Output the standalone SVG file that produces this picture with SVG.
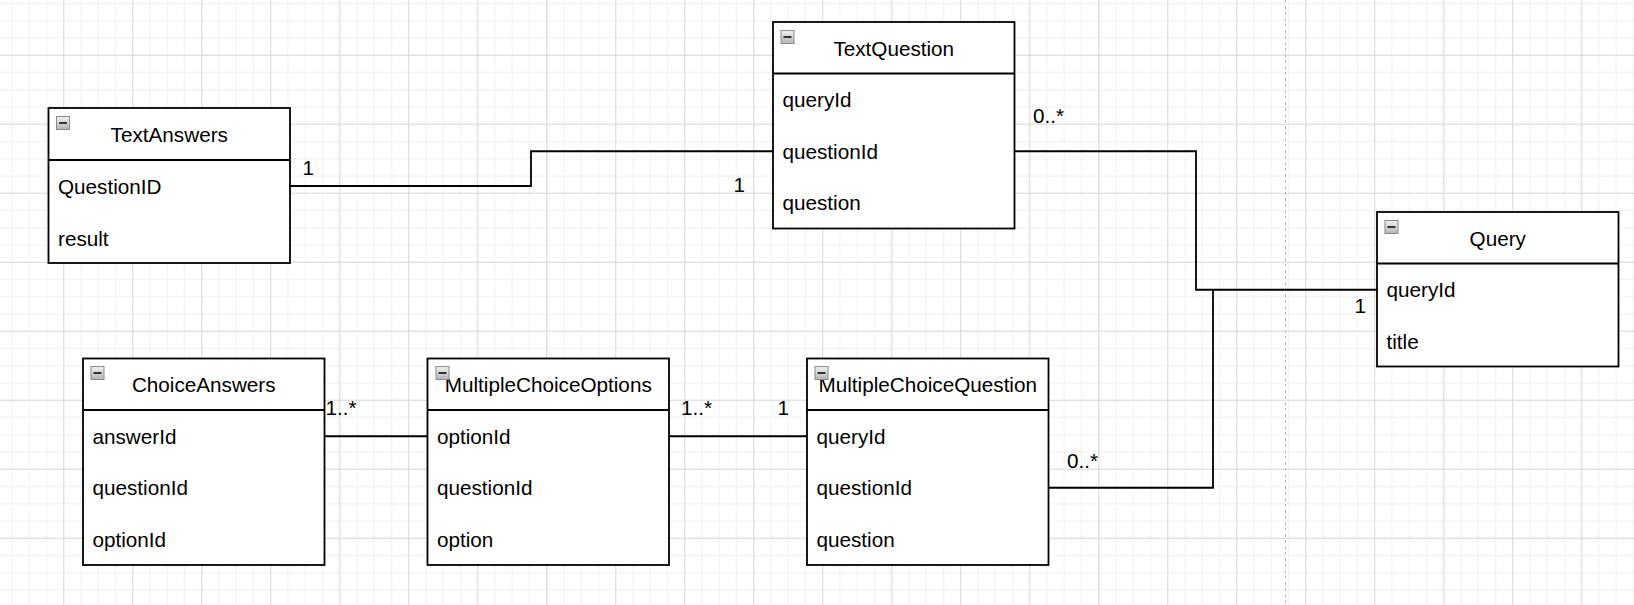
<svg xmlns="http://www.w3.org/2000/svg" width="1634" height="605" viewBox="0 0 1634 605">
<style>
.box{fill:#ffffff;stroke:#000000;stroke-width:1.8}
.div{stroke:#000000;stroke-width:1.8}
.t{font-family:"Liberation Sans",Arial,sans-serif;font-size:20.7px;fill:#000000}
.title{text-anchor:middle}
.edge{fill:none;stroke:#000000;stroke-width:1.8}
.ico{fill:url(#icoGrad);stroke:#8a8a8a;stroke-width:1}
.icobar{fill:#333333}
</style>
<defs>
<pattern id="grid" patternUnits="userSpaceOnUse" x="63.3" y="54.7" width="69" height="69">
<rect x="17.25" y="0" width="1" height="69" fill="#efefef"/>
<rect x="34.5" y="0" width="1" height="69" fill="#efefef"/>
<rect x="51.75" y="0" width="1" height="69" fill="#efefef"/>
<rect x="0" y="17.25" width="69" height="1" fill="#efefef"/>
<rect x="0" y="34.5" width="69" height="1" fill="#efefef"/>
<rect x="0" y="51.75" width="69" height="1" fill="#efefef"/>
<rect x="0" y="0" width="1" height="69" fill="#d6d6d6"/>
<rect x="0" y="0" width="69" height="1" fill="#d6d6d6"/>
</pattern>
<linearGradient id="icoGrad" x1="0" y1="0" x2="0" y2="1">
<stop offset="0" stop-color="#f2f2f2"/>
<stop offset="1" stop-color="#b4b4b4"/>
</linearGradient>
</defs>
<rect x="0" y="0" width="1634" height="605" fill="#ffffff"/>
<rect x="0" y="0" width="1634" height="605" fill="url(#grid)"/>
<line x1="1285.5" y1="0" x2="1285.5" y2="605" stroke="#bdbdbd" stroke-width="1" stroke-dasharray="3 3"/>

<g id="connectors">
<polyline class="edge" points="290,186 531,186 531,151.25 773,151.25"/>
<polyline class="edge" points="1014.5,151.25 1196,151.25 1196,289.75 1377,289.75"/>
<polyline class="edge" points="1048.5,487.75 1213,487.75 1213,289.75"/>
<line class="edge" x1="324.5" y1="436.25" x2="427.5" y2="436.25"/>
<line class="edge" x1="669" y1="436.25" x2="807" y2="436.25"/>
<text class="t" x="302.5" y="175">1</text>
<text class="t" x="733.5" y="191.5">1</text>
<text class="t" x="1033" y="123.3">0..*</text>
<text class="t" x="1354.5" y="313.3">1</text>
<text class="t" x="325.5" y="415">1..*</text>
<text class="t" x="681" y="415">1..*</text>
<text class="t" x="777.5" y="415">1</text>
<text class="t" x="1067" y="468">0..*</text>
</g>

<g id="TextAnswers">
<rect class="box" x="48.5" y="108" width="241.5" height="155"/>
<line class="div" x1="48.5" y1="160" x2="290" y2="160"/>
<rect class="ico" x="56.5" y="116.5" width="13" height="13"/>
<rect class="icobar" x="59" y="122" width="8" height="2"/>
<text class="t title" x="169.25" y="141.5">TextAnswers</text>
<text class="t" x="58" y="194">QuestionID</text>
<text class="t" x="58" y="245.5">result</text>
</g>

<g id="TextQuestion">
<rect class="box" x="773" y="22" width="241.5" height="206.5"/>
<line class="div" x1="773" y1="73.5" x2="1014.5" y2="73.5"/>
<rect class="ico" x="781" y="30.5" width="13" height="13"/>
<rect class="icobar" x="783.5" y="36" width="8" height="2"/>
<text class="t title" x="893.75" y="55.5">TextQuestion</text>
<text class="t" x="782.5" y="107">queryId</text>
<text class="t" x="782.5" y="158.5">questionId</text>
<text class="t" x="782.5" y="210">question</text>
</g>

<g id="Query">
<rect class="box" x="1377" y="212" width="241.5" height="154.5"/>
<line class="div" x1="1377" y1="263.5" x2="1618.5" y2="263.5"/>
<rect class="ico" x="1385" y="220.5" width="13" height="13"/>
<rect class="icobar" x="1387.5" y="226" width="8" height="2"/>
<text class="t title" x="1497.75" y="245.5">Query</text>
<text class="t" x="1386.5" y="297">queryId</text>
<text class="t" x="1386.5" y="348.5">title</text>
</g>

<g id="ChoiceAnswers">
<rect class="box" x="83" y="358.5" width="241.5" height="206.5"/>
<line class="div" x1="83" y1="410" x2="324.5" y2="410"/>
<rect class="ico" x="91" y="366.5" width="13" height="13"/>
<rect class="icobar" x="93.5" y="372" width="8" height="2"/>
<text class="t title" x="203.75" y="392">ChoiceAnswers</text>
<text class="t" x="92.5" y="443.5">answerId</text>
<text class="t" x="92.5" y="495">questionId</text>
<text class="t" x="92.5" y="546.5">optionId</text>
</g>

<g id="MultipleChoiceOptions">
<rect class="box" x="427.5" y="358.5" width="241.5" height="206.5"/>
<line class="div" x1="427.5" y1="410" x2="669" y2="410"/>
<text class="t title" x="548.25" y="392">MultipleChoiceOptions</text>
<rect class="ico" x="436" y="366.5" width="13" height="13"/>
<rect class="icobar" x="438.5" y="372" width="8" height="2"/>
<text class="t" x="437" y="443.5">optionId</text>
<text class="t" x="437" y="495">questionId</text>
<text class="t" x="437" y="546.5">option</text>
</g>

<g id="MultipleChoiceQuestion">
<rect class="box" x="807" y="358.5" width="241.5" height="206.5"/>
<line class="div" x1="807" y1="410" x2="1048.5" y2="410"/>
<text class="t title" x="927.75" y="392">MultipleChoiceQuestion</text>
<rect class="ico" x="815" y="366.5" width="13" height="13"/>
<rect class="icobar" x="817.5" y="372" width="8" height="2"/>
<text class="t" x="816.5" y="443.5">queryId</text>
<text class="t" x="816.5" y="495">questionId</text>
<text class="t" x="816.5" y="546.5">question</text>
</g>
</svg>
